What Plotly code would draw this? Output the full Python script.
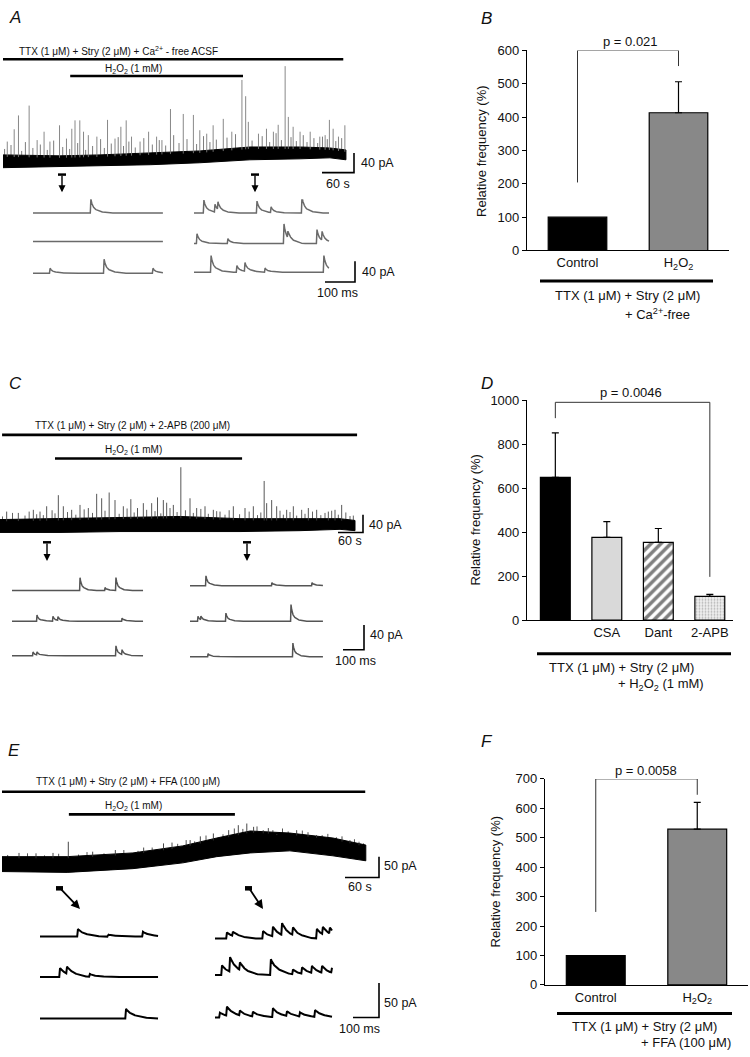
import numpy as np
import plotly.graph_objects as go

W, H = 750, 1057
FONT = "Liberation Sans, Arial, Helvetica, sans-serif"

# ================= DATA =================
# ---- Panel A: long recording (time s, current pA) ----
A_band_t = [0, 107, 182, 276, 369, 463, 557, 613, 643]
A_band_lo = [0, 2, 4, 6, 10, 16, 18, 20, 16]
A_band_hi = [26, 24, 26, 30, 34, 42, 42, 40, 36]
A_spike_t = [8, 21, 29, 49, 64, 77, 88, 106, 119, 129, 135, 144, 151, 160, 176, 196, 210, 221,
             231, 241, 257, 273, 288, 298, 314, 338, 357, 369, 382, 394, 413, 429, 448, 455,
             460, 479, 494, 507, 516, 529, 535, 544, 557, 576, 594, 604, 612, 619, 629, 641]
A_spike_amp = [53, 78, 106, 126, 56, 73, 53, 86, 59, 79, 96, 96, 73, 66, 63, 97, 59, 83,
               96, 63, 53, 73, 63, 56, 119, 109, 107, 76, 69, 86, 99, 73, 178, 145,
               93, 69, 79, 73, 87, 206, 103, 83, 73, 73, 63, 66, 97, 79, 63, 86]
A_small_t = [3, 15, 35, 42, 56, 70, 83, 95, 112, 125, 140, 155, 168, 183, 190, 203, 216, 226, 236,
             248, 264, 280, 293, 305, 320, 330, 345, 363, 376, 388, 400, 420, 436, 467, 486, 500,
             512, 522, 540, 550, 563, 570, 583, 590, 599, 608, 624, 635]
A_small_amp = [38, 46, 34, 52, 40, 47, 36, 55, 42, 38, 50, 36, 44, 58, 40, 49, 62, 44, 53,
               41, 60, 47, 56, 45, 66, 50, 58, 48, 64, 52, 57, 61, 68, 55, 64, 52,
               70, 56, 62, 54, 66, 52, 60, 50, 63, 58, 54, 60]
A_ttx = [0, 638]
A_h2o2 = [126, 450]
# insets: events (ms, pA)
A_in_left = [[(193, 27)], [], [(57, 9.5), (237, 27), (400, 9.5)]]
A_in_right = [[(33, 25), (70, 15), (80, 15), (210, 23), (257, 11), (360, 32)],
              [(10, 19), (113, 9.5), (300, 38), (313, 13), (410, 27), (427, 17)],
              [(57, 32), (143, 13), (170, 17), (237, 8), (433, 32)]]
A_in_len = [433, 450]

# ---- Panel C ----
C_band_t = [0, 144, 288, 432, 576, 720, 816, 852]
C_band_lo = [0, 0, 2, 2, 2, 4, 7, 4]
C_band_hi = [29, 31, 34, 36, 31, 31, 31, 27]
C_spike_t = [16, 44, 80, 96, 112, 140, 152, 172, 192, 212, 232, 244, 262, 276, 296, 314, 330,
             344, 364, 378, 392, 400, 416, 434, 456, 472, 492, 512, 528, 560, 588, 608, 634,
             640, 652, 664, 688, 704, 740, 760, 788, 804, 820]
C_spike_amp = [47, 44, 51, 47, 59, 84, 59, 51, 62, 55, 87, 77, 90, 73, 59, 75, 55,
               66, 66, 79, 73, 67, 62, 147, 77, 55, 59, 51, 47, 59, 55, 59, 116,
               66, 73, 59, 51, 59, 55, 51, 47, 51, 62]
C_small_t = [6, 30, 60, 70, 88, 104, 125, 132, 162, 182, 202, 222, 252, 286, 305, 322, 352, 372,
             386, 408, 425, 445, 464, 482, 500, 520, 540, 550, 575, 598, 618, 626, 672, 680, 696,
             712, 724, 732, 750, 770, 780, 796, 812, 830, 840, 848]
C_small_amp = [36, 44, 38, 47, 41, 39, 50, 43, 46, 40, 52, 44, 49, 42, 54, 45, 51, 48,
               43, 55, 46, 50, 44, 53, 42, 48, 40, 50, 41, 47, 39, 45, 49, 40, 46,
               38, 51, 42, 47, 39, 44, 49, 40, 45, 37, 38]
C_ttx = [5, 857]
C_h2o2 = [132, 581]
C_in_left = [[(324, 21), (443, 5), (495, 21)],
             [(119, 10), (195, 8), (219, 6), (524, 5)],
             [(100, 6), (119, 5), (495, 16), (524, 8)]]
C_in_right = [[(76, 16), (390, 5), (581, 5)],
              [(38, 8), (52, 6), (171, 13), (481, 27)],
              [(86, 5), (490, 22)]]
C_in_len = [624, 633]

# ---- Panel E ----
E_band_t = [0, 115, 231, 319, 379, 438, 508, 584, 642]
E_band_lo = [0, -2, 7, 21, 36, 45, 50, 38, 26]
E_band_hi = [36, 36, 45, 62, 81, 98, 93, 81, 64]
E_spike_t = [30, 60, 90, 117, 160, 200, 250, 285, 300, 332, 350, 373, 400, 417, 432, 444,
             461, 470, 485, 520, 540, 555, 600, 614, 630]
E_spike_amp = [45, 44, 45, 72, 48, 52, 58, 68, 70, 76, 85, 92, 100, 112, 116, 108,
               100, 105, 88, 100, 95, 88, 85, 76, 72]
E_small_t = [10, 45, 75, 100, 135, 150, 180, 215, 240, 265, 310, 325, 340, 360, 390, 410, 425,
             450, 478, 495, 505, 530, 565, 575, 590, 622, 638]
E_small_amp = [40, 44, 39, 43, 41, 47, 44, 52, 50, 58, 67, 76, 73, 87, 90, 104, 103,
               109, 100, 104, 97, 99, 88, 91, 83, 78, 68]
E_ttx = [0, 641]
E_h2o2 = [118, 411]
E_in_left = [[(146, 11), (262, 3), (396, 7)],
             [(77, 13), (104, 10), (192, 4)],
             [(331, 14)]]
E_in_right = [[(46, 9), (69, 6), (185, 11), (223, 14), (258, 17), (300, 11), (392, 14), (415, 11), (442, 9)],
              [(27, 14), (58, 21), (96, 11), (215, 23), (300, 7), (335, 9), (373, 10), (412, 10), (450, 7)],
              [(19, 7), (46, 13), (96, 7), (146, 7), (223, 13), (277, 7), (327, 6), (385, 10)]]
E_in_len = [454, 450]

# ---- Bar charts ----
B_cats = ["Control", "H<sub>2</sub>O<sub>2</sub>"]
B_vals = [100, 413]
B_err = [0, 93]
D_cats = ["", "CSA", "Dant", "2-APB"]
D_vals = [650, 377, 354, 108]
D_err = [202, 71, 63, 9]
F_cats = ["Control", "H<sub>2</sub>O<sub>2</sub>"]
F_vals = [100, 529]
F_err = [0, 91]
P_TEXT = ["p = 0.021", "p = 0.0046", "p = 0.0058"]

# ================= FIGURE =================
fig = go.Figure()
annotations = []
shapes = []


def P(px, py):
    return px / W, 1 - py / H


def ann(text, px, py, size=12.5, xanchor="center", yanchor="middle", angle=0, color="#111"):
    x, y = P(px, py)
    annotations.append(dict(text=text, x=x, y=y, xref="paper", yref="paper", showarrow=False,
                            xanchor=xanchor, yanchor=yanchor, textangle=angle,
                            font=dict(family=FONT, size=size, color=color)))


def hline(px0, px1, py, width=3, color="black"):
    x0, y0 = P(px0, py)
    x1, _ = P(px1, py)
    shapes.append(dict(type="line", xref="paper", yref="paper", x0=x0, x1=x1, y0=y0, y1=y0,
                       line=dict(color=color, width=width)))


def trace_axes(n, box, xo, sx, yo, sy):
    px0, px1, pyt, pyb = box
    fig.layout["xaxis%d" % n] = dict(domain=[px0 / W, px1 / W], range=[(px0 - xo) / sx, (px1 - xo) / sx],
                                     visible=False, fixedrange=True, anchor="y%d" % n)
    fig.layout["yaxis%d" % n] = dict(domain=[1 - pyb / H, 1 - pyt / H], range=[(yo - pyb) / sy, (yo - pyt) / sy],
                                     visible=False, fixedrange=True, anchor="x%d" % n)
    return (lambda px: (px - xo) / sx), (lambda py: (yo - py) / sy)


def line(n, xs, ys, color="black", width=1.0, fill=None):
    fig.add_trace(go.Scatter(x=xs, y=ys, mode="lines", line=dict(color=color, width=width),
                             fill=fill, fillcolor=color if fill else None,
                             xaxis="x%d" % n, yaxis="y%d" % n, hoverinfo="skip", showlegend=False))


def spikes(n, band_t, hi, spk_t, spk_amp, color, width):
    base = np.interp(spk_t, band_t, hi)
    sxs, sys_ = [], []
    for t, b, a in zip(spk_t, base, spk_amp):
        sxs += [t, t, None]
        sys_ += [b - 4, a, None]
    line(n, sxs, sys_, color=color, width=width)


def draw_long(n, band_t, lo, hi, spk, small, band_color, spk_color, small_color):
    xs = list(band_t) + list(band_t[::-1])
    ys = list(hi) + list(lo[::-1])
    spikes(n, band_t, hi, small[0], small[1], small_color, 0.8)
    line(n, xs, ys, color=band_color, width=1.0, fill="toself")
    spikes(n, band_t, hi, spk[0], spk[1], spk_color, 0.9)


def drug_bars(n, tx, vy, ttx, h2o2, py_ttx, py_h2o2):
    line(n, ttx, [vy(py_ttx)] * 2, width=2.6)
    line(n, h2o2, [vy(py_h2o2)] * 2, width=2.6)


def scale_bar(n, tx, vy, corner, dx, dy):
    cx, cy = tx(corner[0]), vy(corner[1])
    line(n, [cx - dx, cx, cx], [cy, cy, cy + dy], width=1.6)


def event_curve(events, length, knots_t, knots_v):
    t = np.arange(0, length + 1, 1.0)
    y = np.zeros_like(t)
    for te, a in events:
        y += a * np.interp(t - te, knots_t, knots_v, left=0, right=0)
    return t, y


def draw_insets(n, tx, vy, col_px, rows_py, cols_events, lengths, knots, color, width):
    for c in range(2):
        t0 = tx(col_px[c])
        for r, ev in enumerate(cols_events[c]):
            base = vy(rows_py[c][r])
            t, y = event_curve(ev, lengths[c], knots[0], knots[1])
            line(n, t + t0, y + base, color=color, width=width)


def t_arrow(px, py_cap, py_head):
    hline(px - 4, px + 4, py_cap, width=2.5)
    x, y = P(px, py_head)
    annotations.append(dict(x=x, y=y, xref="paper", yref="paper", ax=0, ay=py_cap - py_head,
                            showarrow=True, arrowhead=2, arrowsize=1, arrowwidth=1.4,
                            arrowcolor="black", text=""))


def diag_arrow(px0, py0, px1, py1):
    hline(px0 - 4, px0 + 3, py0, width=4.5)
    x, y = P(px1, py1)
    annotations.append(dict(x=x, y=y, xref="paper", yref="paper", ax=px0 - px1, ay=py0 - py1,
                            showarrow=True, arrowhead=2, arrowsize=1, arrowwidth=1.8,
                            arrowcolor="black", text=""))


KN_FAST = ([-2, 0, 4, 12, 30, 60], [0, 1, 0.6, 0.3, 0.1, 0])
KN_SLOW = ([-3, 0, 8, 25, 60, 100], [0, 1, 0.7, 0.4, 0.12, 0])

# ---------- Panel A ----------
tx, vy = trace_axes(4, (0, 400, 25, 190), 3, 32 / 60, 163, 0.5)
drug_bars(4, tx, vy, A_ttx, A_h2o2, 53, 70)
draw_long(4, A_band_t, A_band_lo, A_band_hi, (A_spike_t, A_spike_amp), (A_small_t, A_small_amp),
          "black", "#7a7a7a", "#5a5a5a")
scale_bar(4, tx, vy, (354, 168), 60, 40)
tx, vy = trace_axes(5, (0, 400, 195, 300), 33, 0.3, 280, 0.525)
draw_insets(5, tx, vy, (33, 194), ([209, 238, 270], [209, 240, 269]), (A_in_left, A_in_right),
            A_in_len, KN_FAST, "#6a6a6a", 1.5)
scale_bar(5, tx, vy, (355, 279), 100, 40)
t_arrow(62, 170, 188)
t_arrow(255, 170, 188)
ann("<i>A</i>", 15, 11, size=17)
ann("TTX (1 μM) + Stry (2 μM) + Ca<sup>2+</sup> - free ACSF", 118, 45, size=10)
ann("H<sub>2</sub>O<sub>2</sub> (1 mM)", 133, 63, size=10)
ann("40 pA", 359, 158, xanchor="left")
ann("60 s", 338, 180)
ann("40 pA", 360, 269, xanchor="left")
ann("100 ms", 337, 290)

# ---------- Panel C ----------
tx, vy = trace_axes(6, (0, 400, 400, 545), 0, 25 / 60, 533, 0.45)
drug_bars(6, tx, vy, C_ttx, C_h2o2, 434, 458)
draw_long(6, C_band_t, C_band_lo, C_band_hi, (C_spike_t, C_spike_amp), (C_small_t, C_small_amp),
          "black", "#444444", "#3a3a3a")
scale_bar(6, tx, vy, (363, 533), 60, 40)
tx, vy = trace_axes(7, (0, 400, 570, 670), 12, 0.21, 660, 0.625)
draw_insets(7, tx, vy, (12, 190), ([592, 623, 658], [587, 623, 659]), (C_in_left, C_in_right),
            C_in_len, KN_FAST, "#555555", 1.5)
scale_bar(7, tx, vy, (364, 652), 100, 40)
t_arrow(47, 543, 562)
t_arrow(247, 543, 562)
ann("<i>C</i>", 15, 382, size=17)
ann("TTX (1 μM) + Stry (2 μM) + 2-APB (200 μM)", 132, 425, size=10)
ann("H<sub>2</sub>O<sub>2</sub> (1 mM)", 133, 449, size=10)
ann("40 pA", 367, 525, xanchor="left")
ann("60 s", 350, 542)
ann("40 pA", 368, 637, xanchor="left")
ann("100 ms", 355, 663)

# ---------- Panel E ----------
tx, vy = trace_axes(8, (0, 400, 770, 890), 2, 34 / 60, 877, 0.42)
drug_bars(8, tx, vy, E_ttx, E_h2o2, 796, 819)
draw_long(8, E_band_t, E_band_lo, E_band_hi, (E_spike_t, E_spike_amp), (E_small_t, E_small_amp),
          "black", "#333333", "#2a2a2a")
scale_bar(8, tx, vy, (379, 883), 60, 50)
tx, vy = trace_axes(9, (0, 400, 925, 1040), 40, 0.26, 1030, 0.7)
draw_insets(9, tx, vy, (40, 215), ([943, 984, 1026], [945, 982, 1025]), (E_in_left, E_in_right),
            E_in_len, KN_SLOW, "black", 2.0)
scale_bar(9, tx, vy, (379, 1025), 100, 50)
diag_arrow(60, 894, 80, 915)
diag_arrow(249, 894, 263, 915)
ann("<i>E</i>", 14, 754, size=17)
ann("TTX (1 μM) + Stry (2 μM) + FFA (100 μM)", 128, 786, size=10)
ann("H<sub>2</sub>O<sub>2</sub> (1 mM)", 133, 811, size=10)
ann("50 pA", 382, 871, xanchor="left")
ann("60 s", 360, 893)
ann("50 pA", 382, 1010, xanchor="left")
ann("100 ms", 359, 1037)


# ---------- Bar charts ----------
def bar_panel(ax_id, xbox, ybox, yrange, dtick, xrange_, cats, vals, errs, styles, bracket, width):
    sfx = "" if ax_id == 1 else str(ax_id)
    xa, ya = "x" + sfx, "y" + sfx
    fig.layout["xaxis" + sfx] = dict(domain=[xbox[0] / W, xbox[1] / W], range=xrange_, showline=True,
                                      linecolor="black", linewidth=1.2, ticks="", showgrid=False,
                                      zeroline=False, tickvals=list(range(len(cats))), ticktext=cats,
                                      tickfont=dict(family=FONT, size=13, color="#111"),
                                      anchor=ya, fixedrange=True)
    fig.layout["yaxis" + sfx] = dict(domain=[1 - ybox[1] / H, 1 - ybox[0] / H], range=yrange, dtick=dtick,
                                      showline=True, linecolor="black", linewidth=1.2, ticks="outside",
                                      ticklen=4, tickwidth=1.2, tickcolor="black", showgrid=False,
                                      zeroline=False, tickfont=dict(family=FONT, size=13, color="#111"),
                                      anchor=xa, fixedrange=True)
    for i, (v, e, st) in enumerate(zip(vals, errs, styles)):
        kw = dict(x=[i], y=[v], width=[width], marker=dict(line=dict(color="black", width=1.2), **st),
                  xaxis=xa, yaxis=ya, showlegend=False, hoverinfo="skip")
        if e > 0:
            kw["error_y"] = dict(type="data", array=[e], arrayminus=[0], symmetric=False,
                                 color="black", thickness=1.2, width=3.5)
        fig.add_trace(go.Bar(**kw))
    i0, i1, y0, ytop, y1 = bracket
    fig.add_trace(go.Scatter(x=[i0, i0, i1, i1], y=[y0, ytop, ytop, y1], mode="lines",
                             line=dict(color="#333", width=1), cliponaxis=False,
                             xaxis=xa, yaxis=ya, showlegend=False, hoverinfo="skip"))


bar_panel(1, (527, 729), (44, 247), [0, 600], 100, [-0.5, 1.5], B_cats, B_vals, B_err,
          [dict(color="black"), dict(color="#888888")], (0, 1, 204, 600, 553), 0.58)
bar_panel(2, (527, 733), (399, 622), [0, 1000], 200, [-0.55, 3.45], D_cats, D_vals, D_err,
          [dict(color="black"), dict(color="#d9d9d9"),
           dict(color="white", pattern=dict(shape="/", fgcolor="black", bgcolor="white", size=7, solidity=0.5)),
           dict(color="#f0f0f0", pattern=dict(shape=".", fgcolor="#777777", bgcolor="#f0f0f0", size=3, solidity=0.3))],
          (0, 3, 919, 991, 197), 0.58)
bar_panel(3, (545, 748), (783, 992), [0, 700], 100, [-0.5, 1.5], F_cats, F_vals, F_err,
          [dict(color="black"), dict(color="#888888")], (0, 1, 248, 700, 646), 0.58)

ann("<i>B</i>", 486, 12, size=17)
ann("Relative frequency (%)", 482, 146, angle=-90, size=13)
ann(P_TEXT[0], 630, 35, size=13)
hline(540, 713, 278, width=3)
ann("TTX (1 μM) + Stry (2 μM)", 627, 293, size=13)
ann("+ Ca<sup>2+</sup>-free", 657, 311, size=13)

ann("<i>D</i>", 487, 382, size=17)
ann("Relative frequency (%)", 476, 520, angle=-90, size=13)
ann(P_TEXT[1], 631, 391, size=13)
hline(537, 731, 656, width=3)
ann("TTX (1 μM) + Stry (2 μM)", 621, 670, size=13)
ann("+ H<sub>2</sub>O<sub>2</sub> (1 mM)", 661, 687, size=13)

ann("<i>F</i>", 487, 745, size=17)
ann("Relative frequency (%)", 495, 887, angle=-90, size=13)
ann(P_TEXT[2], 646, 774, size=13)
hline(557, 732, 1021, width=3)
ann("TTX (1 μM) + Stry (2 μM)", 644, 1034, size=13)
ann("+ FFA (100 μM)", 686, 1050, size=13)

fig.update_layout(width=W, height=H, margin=dict(l=0, r=0, t=0, b=0), autosize=False,
                  paper_bgcolor="white", plot_bgcolor="rgba(0,0,0,0)", barmode="overlay",
                  showlegend=False, hovermode=False, annotations=annotations, shapes=shapes,
                  font=dict(family=FONT, color="#111"))

fig.write_html("out.html", config={"displayModeBar": False},
               post_script="document.body.style.margin='0px';")
